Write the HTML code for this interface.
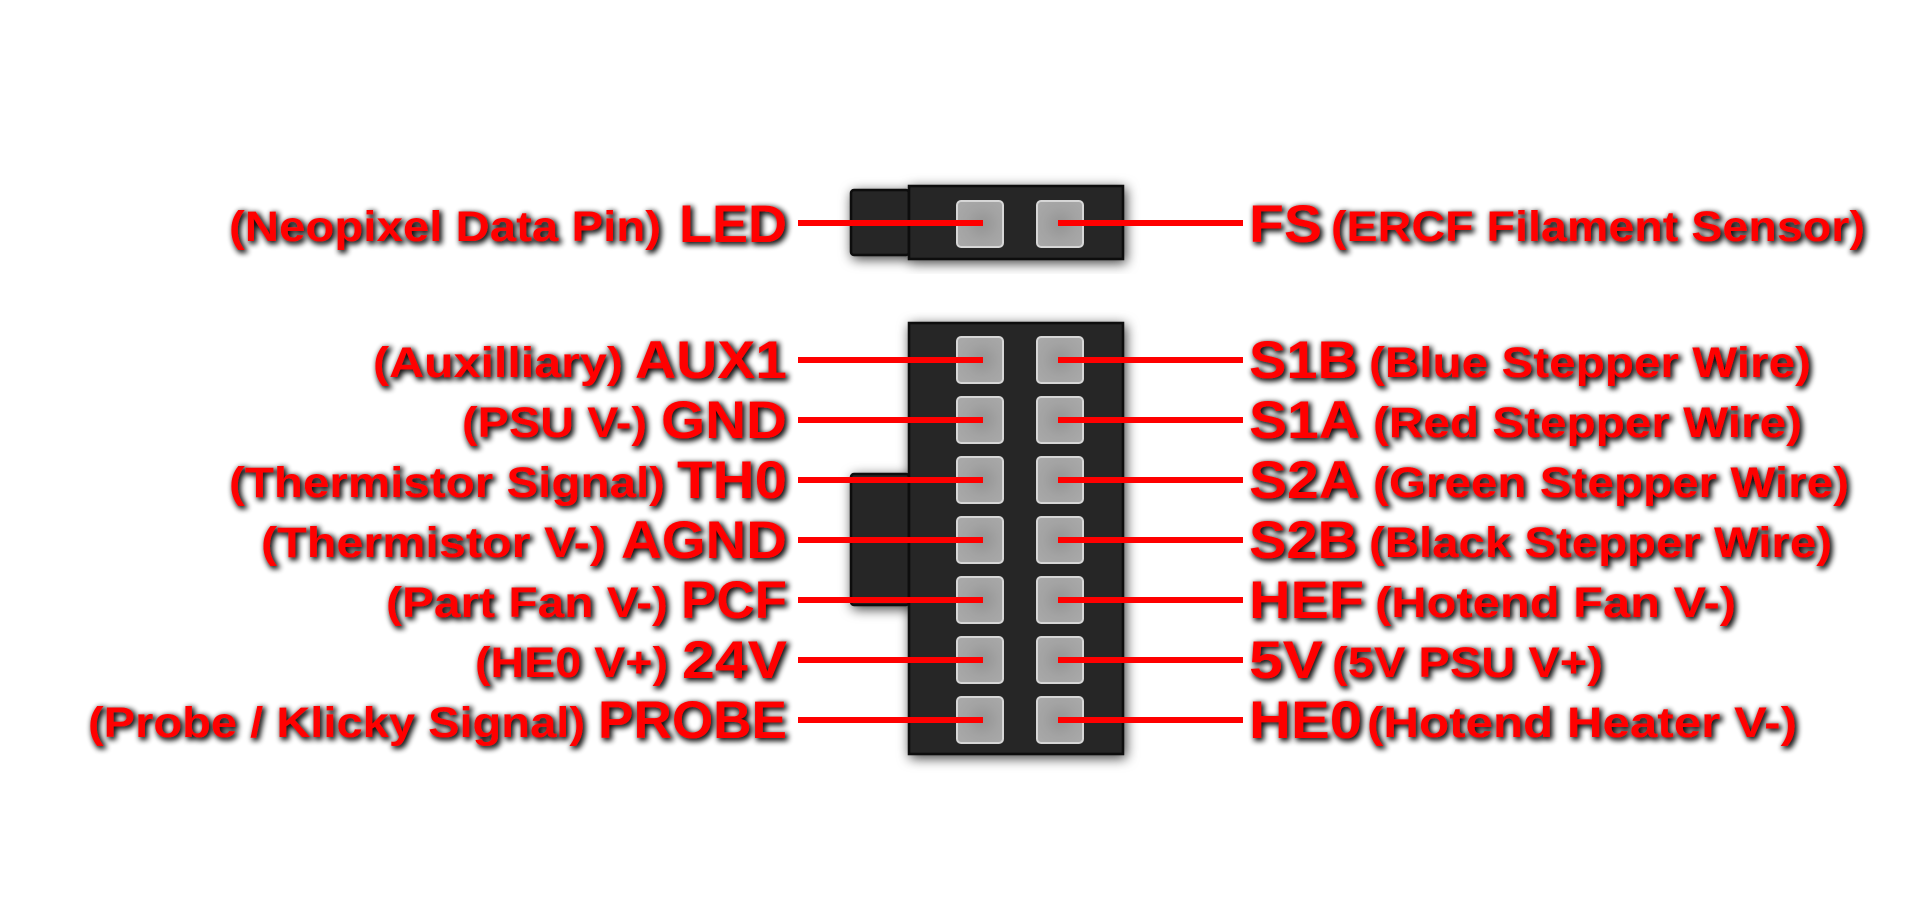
<!DOCTYPE html>
<html>
<head>
<meta charset="utf-8">
<style>
  html, body { margin: 0; padding: 0; background: #ffffff; }
  body { width: 1920px; height: 912px; overflow: hidden; }
  svg { display: block; }
  .big { font-family: "Liberation Sans", Arial, sans-serif; font-weight: bold; font-size: 53px; fill: #ff0000; }
  .sm  { font-family: "Liberation Sans", Arial, sans-serif; font-weight: bold; font-size: 43px; fill: #ff0000; }
</style>
</head>
<body>
<svg width="1920" height="912" viewBox="0 0 1920 912" xmlns="http://www.w3.org/2000/svg">
  <defs>
    <filter id="tsh" x="-10%" y="-40%" width="120%" height="180%">
      <feMorphology in="SourceAlpha" operator="dilate" radius="1" result="d"/>
      <feGaussianBlur in="d" stdDeviation="3" result="b"/>
      <feOffset in="b" dx="2" dy="2" result="o"/>
      <feComponentTransfer in="o" result="s">
        <feFuncA type="linear" slope="0.95"/>
      </feComponentTransfer>
      <feMerge>
        <feMergeNode in="s"/>
        <feMergeNode in="SourceGraphic"/>
      </feMerge>
    </filter>
    <filter id="csh" x="-20%" y="-20%" width="140%" height="140%">
      <feDropShadow dx="2" dy="3" stdDeviation="6" flood-color="#000" flood-opacity="0.75"/>
    </filter>
    <radialGradient id="pinL" cx="0.55" cy="0.5" r="0.6">
      <stop offset="0" stop-color="#959595"/>
      <stop offset="0.6" stop-color="#a3a3a3"/>
      <stop offset="1" stop-color="#a8a8a8"/>
    </radialGradient>
    <radialGradient id="pinR" cx="0.5" cy="0.5" r="0.6">
      <stop offset="0" stop-color="#959595"/>
      <stop offset="0.6" stop-color="#a3a3a3"/>
      <stop offset="1" stop-color="#a8a8a8"/>
    </radialGradient>
  </defs>

  <!-- Top connector -->
  <g filter="url(#csh)">
    <rect x="851" y="190" width="58" height="65" rx="3" fill="#262626" stroke="#0a0a0a" stroke-width="2.5"/>
    <rect x="909" y="186" width="214" height="73" fill="#262626" stroke="#0a0a0a" stroke-width="2.5"/>
  </g>

  <!-- Bottom connector -->
  <g filter="url(#csh)">
    <rect x="851" y="474" width="58" height="131" rx="3" fill="#262626" stroke="#0a0a0a" stroke-width="2.5"/>
    <rect x="909" y="323" width="214" height="431" fill="#262626" stroke="#0a0a0a" stroke-width="2.5"/>
  </g>

  <!-- Pins -->
  <g stroke="#d6d6d6" stroke-width="2">
    <rect x="957" y="201" width="46" height="46" rx="4" fill="url(#pinL)"/>
    <rect x="1037" y="201" width="46" height="46" rx="4" fill="url(#pinR)"/>

    <rect x="957" y="337" width="46" height="46" rx="4" fill="url(#pinL)"/>
    <rect x="1037" y="337" width="46" height="46" rx="4" fill="url(#pinR)"/>
    <rect x="957" y="397" width="46" height="46" rx="4" fill="url(#pinL)"/>
    <rect x="1037" y="397" width="46" height="46" rx="4" fill="url(#pinR)"/>
    <rect x="957" y="457" width="46" height="46" rx="4" fill="url(#pinL)"/>
    <rect x="1037" y="457" width="46" height="46" rx="4" fill="url(#pinR)"/>
    <rect x="957" y="517" width="46" height="46" rx="4" fill="url(#pinL)"/>
    <rect x="1037" y="517" width="46" height="46" rx="4" fill="url(#pinR)"/>
    <rect x="957" y="577" width="46" height="46" rx="4" fill="url(#pinL)"/>
    <rect x="1037" y="577" width="46" height="46" rx="4" fill="url(#pinR)"/>
    <rect x="957" y="637" width="46" height="46" rx="4" fill="url(#pinL)"/>
    <rect x="1037" y="637" width="46" height="46" rx="4" fill="url(#pinR)"/>
    <rect x="957" y="697" width="46" height="46" rx="4" fill="url(#pinL)"/>
    <rect x="1037" y="697" width="46" height="46" rx="4" fill="url(#pinR)"/>
  </g>

  <!-- Red lines -->
  <g stroke="#ff0000" stroke-width="6">
    <line x1="798" y1="223" x2="983" y2="223"/>
    <line x1="1058" y1="223" x2="1243" y2="223"/>
    <line x1="798" y1="360" x2="983" y2="360"/>
    <line x1="1058" y1="360" x2="1243" y2="360"/>
    <line x1="798" y1="420" x2="983" y2="420"/>
    <line x1="1058" y1="420" x2="1243" y2="420"/>
    <line x1="798" y1="480" x2="983" y2="480"/>
    <line x1="1058" y1="480" x2="1243" y2="480"/>
    <line x1="798" y1="540" x2="983" y2="540"/>
    <line x1="1058" y1="540" x2="1243" y2="540"/>
    <line x1="798" y1="600" x2="983" y2="600"/>
    <line x1="1058" y1="600" x2="1243" y2="600"/>
    <line x1="798" y1="660" x2="983" y2="660"/>
    <line x1="1058" y1="660" x2="1243" y2="660"/>
    <line x1="798" y1="720" x2="983" y2="720"/>
    <line x1="1058" y1="720" x2="1243" y2="720"/>
  </g>

  <!-- Left labels -->
  <g filter="url(#tsh)">
    <text class="sm" x="229" y="241" textLength="432" lengthAdjust="spacingAndGlyphs">(Neopixel Data Pin)</text>
    <text class="big" x="679" y="242" textLength="108" lengthAdjust="spacingAndGlyphs">LED</text>

    <text class="sm" x="373" y="377" textLength="250" lengthAdjust="spacingAndGlyphs">(Auxilliary)</text>
    <text class="big" x="635" y="378" textLength="152" lengthAdjust="spacingAndGlyphs">AUX1</text>

    <text class="sm" x="462" y="437" textLength="185" lengthAdjust="spacingAndGlyphs">(PSU V-)</text>
    <text class="big" x="661" y="438" textLength="126" lengthAdjust="spacingAndGlyphs">GND</text>

    <text class="sm" x="229" y="497" textLength="436" lengthAdjust="spacingAndGlyphs">(Thermistor Signal)</text>
    <text class="big" x="677" y="498" textLength="110" lengthAdjust="spacingAndGlyphs">TH0</text>

    <text class="sm" x="261" y="557" textLength="345" lengthAdjust="spacingAndGlyphs">(Thermistor V-)</text>
    <text class="big" x="621" y="558" textLength="166" lengthAdjust="spacingAndGlyphs">AGND</text>

    <text class="sm" x="386" y="617" textLength="282" lengthAdjust="spacingAndGlyphs">(Part Fan V-)</text>
    <text class="big" x="681" y="618" textLength="106" lengthAdjust="spacingAndGlyphs">PCF</text>

    <text class="sm" x="475" y="677" textLength="193" lengthAdjust="spacingAndGlyphs">(HE0 V+)</text>
    <text class="big" x="682" y="678" textLength="105" lengthAdjust="spacingAndGlyphs">24V</text>

    <text class="sm" x="88" y="737" textLength="497" lengthAdjust="spacingAndGlyphs">(Probe / Klicky Signal)</text>
    <text class="big" x="598" y="738" textLength="189" lengthAdjust="spacingAndGlyphs">PROBE</text>
  </g>

  <!-- Right labels -->
  <g filter="url(#tsh)">
    <text class="big" x="1249" y="242" textLength="73" lengthAdjust="spacingAndGlyphs">FS</text>
    <text class="sm" x="1331" y="241" textLength="534" lengthAdjust="spacingAndGlyphs">(ERCF Filament Sensor)</text>

    <text class="big" x="1249" y="378" textLength="109" lengthAdjust="spacingAndGlyphs">S1B</text>
    <text class="sm" x="1369" y="377" textLength="442" lengthAdjust="spacingAndGlyphs">(Blue Stepper Wire)</text>

    <text class="big" x="1249" y="438" textLength="111" lengthAdjust="spacingAndGlyphs">S1A</text>
    <text class="sm" x="1373" y="437" textLength="429" lengthAdjust="spacingAndGlyphs">(Red Stepper Wire)</text>

    <text class="big" x="1249" y="498" textLength="111" lengthAdjust="spacingAndGlyphs">S2A</text>
    <text class="sm" x="1373" y="497" textLength="476" lengthAdjust="spacingAndGlyphs">(Green Stepper Wire)</text>

    <text class="big" x="1249" y="558" textLength="109" lengthAdjust="spacingAndGlyphs">S2B</text>
    <text class="sm" x="1369" y="557" textLength="463" lengthAdjust="spacingAndGlyphs">(Black Stepper Wire)</text>

    <text class="big" x="1249" y="618" textLength="115" lengthAdjust="spacingAndGlyphs">HEF</text>
    <text class="sm" x="1375" y="617" textLength="361" lengthAdjust="spacingAndGlyphs">(Hotend Fan V-)</text>

    <text class="big" x="1249" y="678" textLength="74" lengthAdjust="spacingAndGlyphs">5V</text>
    <text class="sm" x="1332" y="677" textLength="271" lengthAdjust="spacingAndGlyphs">(5V PSU V+)</text>

    <text class="big" x="1249" y="738" textLength="113" lengthAdjust="spacingAndGlyphs">HE0</text>
    <text class="sm" x="1367" y="737" textLength="430" lengthAdjust="spacingAndGlyphs">(Hotend Heater V-)</text>
  </g>
</svg>
</body>
</html>
